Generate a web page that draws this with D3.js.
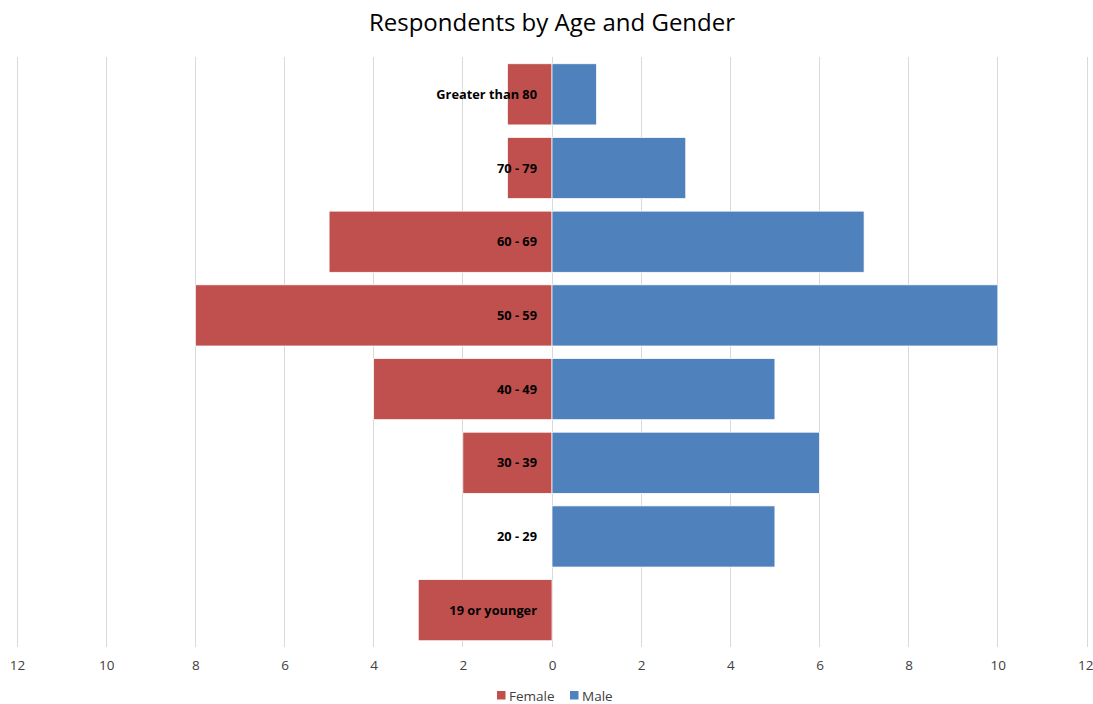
<!DOCTYPE html>
<html><head><meta charset="utf-8">
<script src="https://cdn.jsdelivr.net/npm/d3@7"></script>
<style>body{margin:0;background:#fff;}svg{display:block;font-family:"Open Sans","Liberation Sans",sans-serif;}</style>
</head><body>
<svg id="c" width="1093" height="704"></svg>
<script>
const categories = ["Greater than 80","70 - 79","60 - 69","50 - 59","40 - 49","30 - 39","20 - 29","19 or younger"];
const female = [1,1,5,8,4,2,0,3];
const male = [1,3,7,10,5,6,5,0];
const tickValues = [-12,-10,-8,-6,-4,-2,0,2,4,6,8,10,12];
const seriesNames = ["Female","Male"];
const colors = ["#C0504D","#4F81BD"];

const svg = d3.select("#c");
const x = d3.scaleLinear().domain([-12,12]).range([17,1087]);
const y = d3.scaleBand().domain(categories).range([57.5,647]).paddingInner(0.17).paddingOuter(0.085);

svg.append("text").attr("x",552).attr("y",31).attr("text-anchor","middle")
  .attr("font-size",24).attr("fill","#000").text("Respondents by Age and Gender");

// gridlines
svg.append("g").selectAll("line").data(tickValues).join("line")
  .attr("x1",d=>x(d)).attr("x2",d=>x(d)).attr("y1",57).attr("y2",647)
  .attr("stroke","#D9D9D9").attr("stroke-width",1).attr("shape-rendering","crispEdges");

// bars
svg.append("g").selectAll("rect").data(categories).join("rect")
  .attr("x",(d,i)=>x(-female[i])).attr("width",(d,i)=>x(0)-x(-female[i]))
  .attr("y",d=>y(d)).attr("height",y.bandwidth())
  .attr("fill",colors[0]).attr("stroke","#fff").attr("stroke-width",0.75);
svg.append("g").selectAll("rect").data(categories).join("rect")
  .attr("x",x(0)).attr("width",(d,i)=>x(male[i])-x(0))
  .attr("y",d=>y(d)).attr("height",y.bandwidth())
  .attr("fill",colors[1]).attr("stroke","#fff").attr("stroke-width",0.75);

// category labels
svg.append("g").selectAll("text").data(categories).join("text")
  .attr("x",537).attr("y",d=>y(d)+y.bandwidth()/2).attr("dy","0.36em")
  .attr("text-anchor","end").attr("font-weight","bold").attr("font-size",12.8).attr("fill","#000")
  .text(d=>d);

// x axis
const ax = d3.axisBottom(x).tickValues(tickValues).tickFormat(d=>Math.abs(d)).tickSize(0).tickPadding(0);
const g = svg.append("g").attr("transform","translate(0,670)").call(ax);
g.select(".domain").remove();
g.selectAll("text").attr("font-size",13.5).attr("fill","#404040").attr("dy",0)
  .attr("font-family","\"Open Sans\",\"Liberation Sans\",sans-serif");
// keep the last label inside the picture
g.selectAll(".tick").filter(d=>d===12).select("text").attr("text-anchor","end").attr("x",6);

// legend
const leg = svg.append("g");
const legX = [497,570];
seriesNames.forEach((n,i)=>{
  leg.append("rect").attr("x",legX[i]).attr("y",691).attr("width",8.5).attr("height",8.5).attr("fill",colors[i]);
  leg.append("text").attr("x",legX[i]+12).attr("y",700.5).attr("font-size",13.5).attr("fill","#404040").text(n);
});
</script>
</body></html>
